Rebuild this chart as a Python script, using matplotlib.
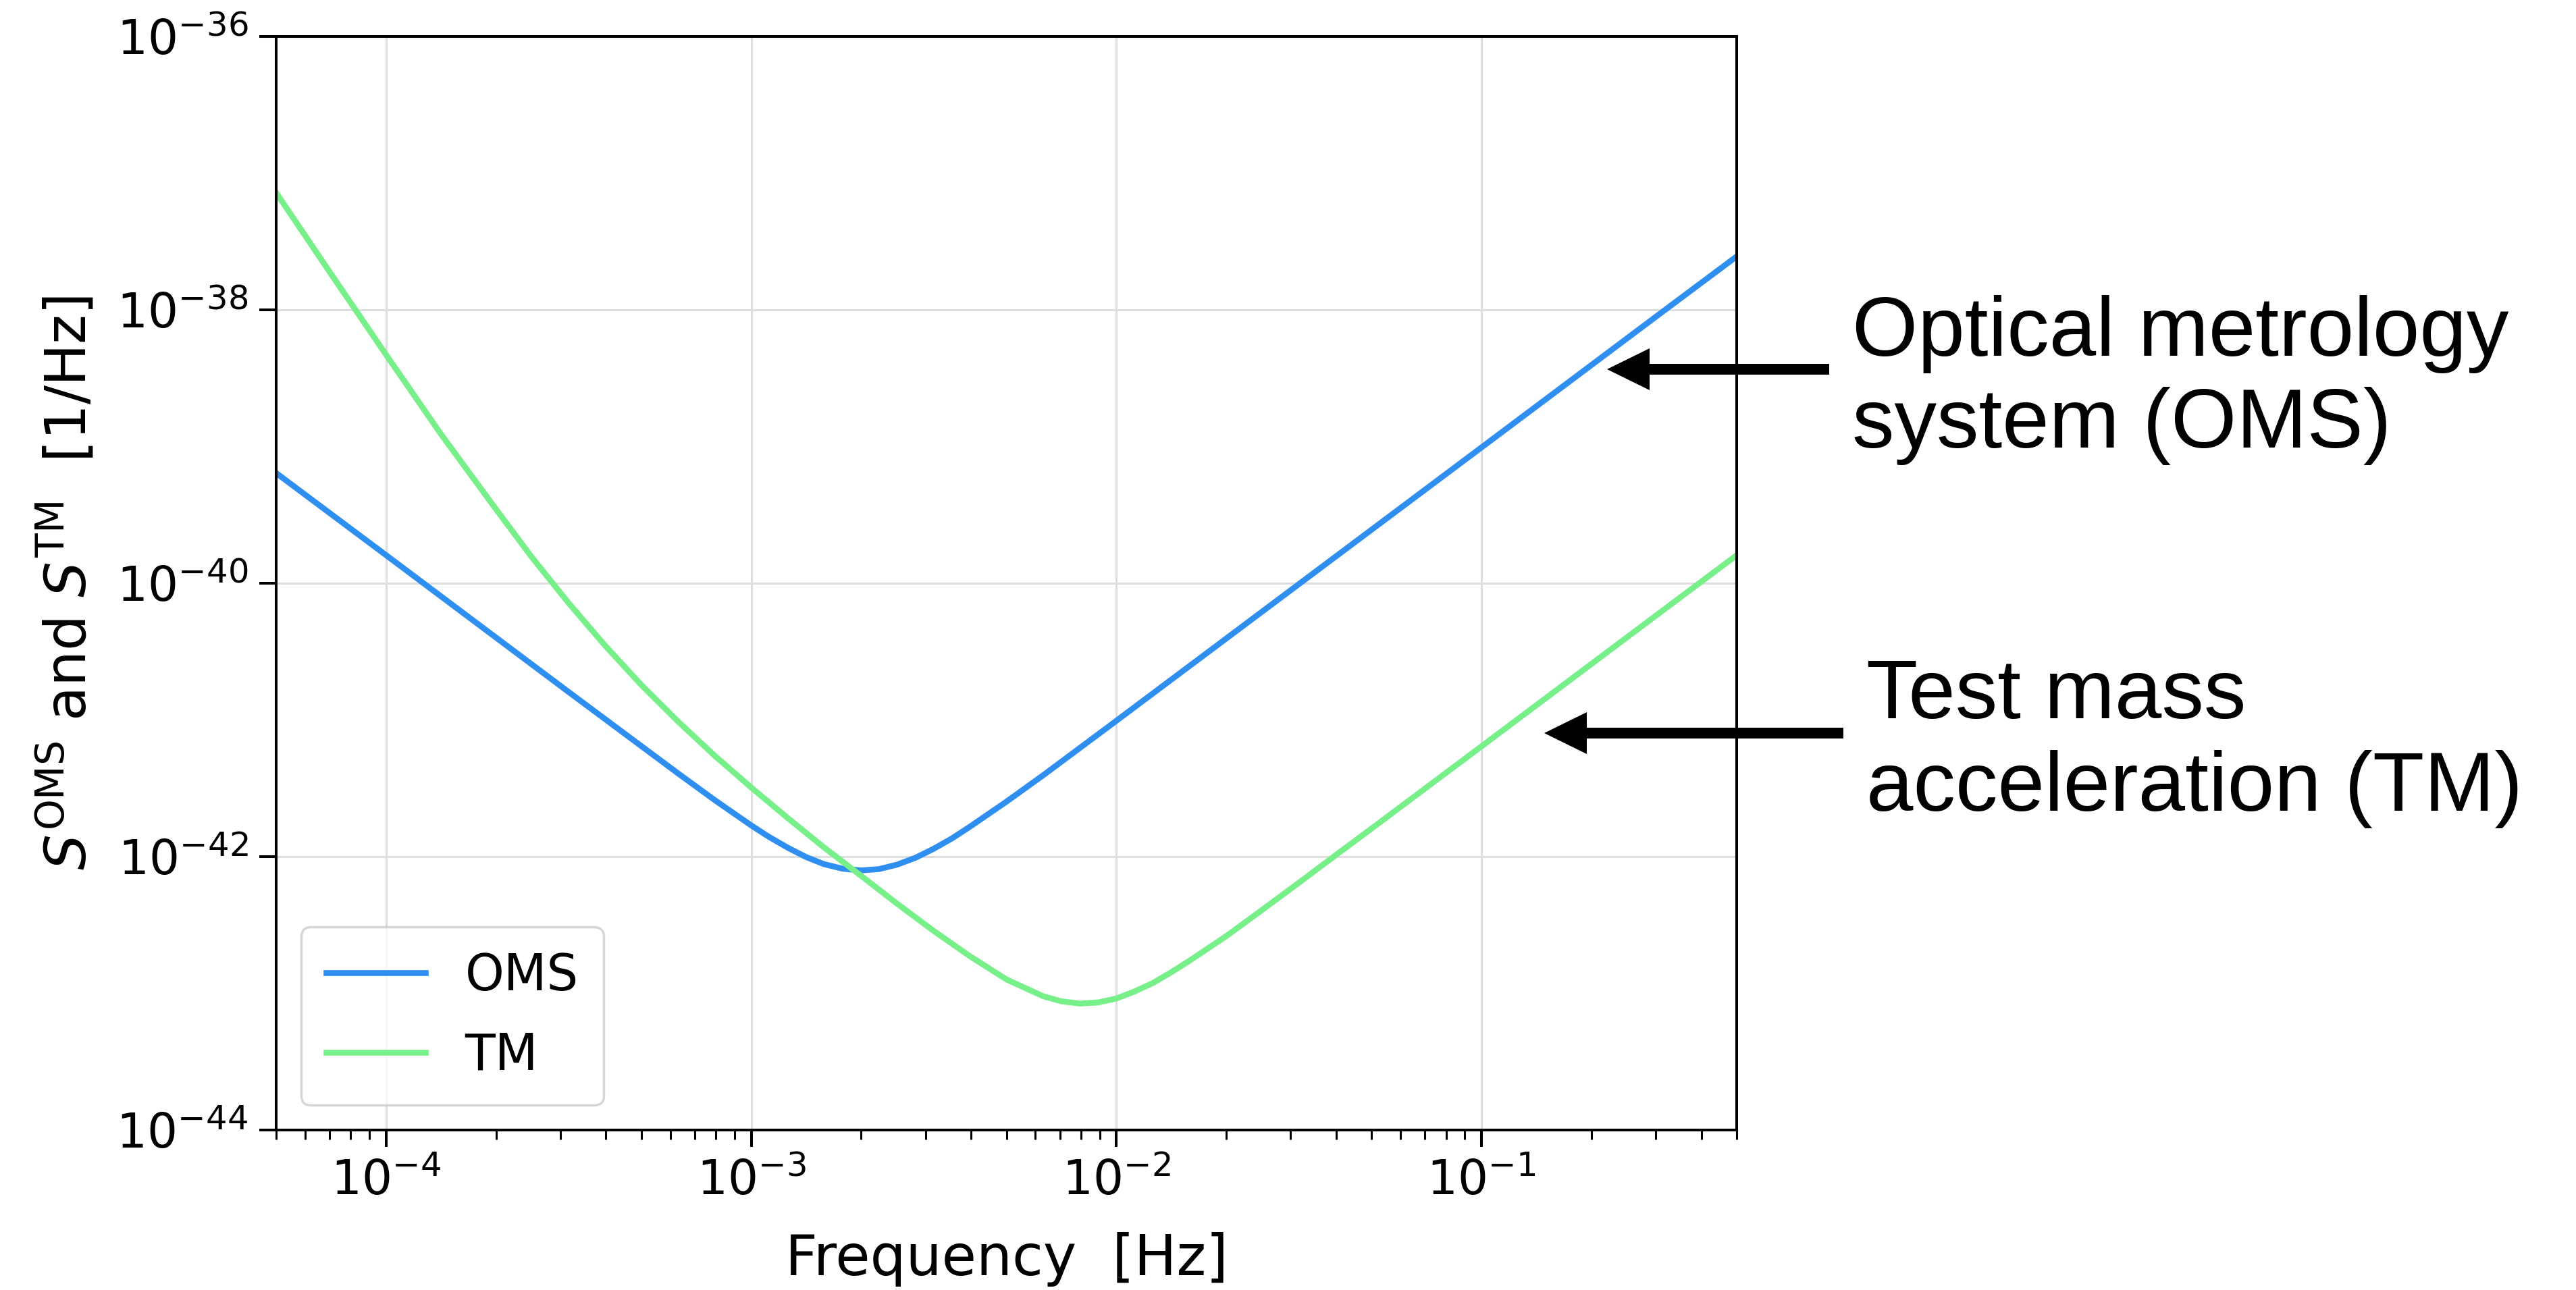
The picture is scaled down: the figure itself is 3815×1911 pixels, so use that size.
import matplotlib
matplotlib.use("Agg")
import matplotlib.pyplot as plt
from matplotlib.patches import FancyArrow
from matplotlib.ticker import NullLocator

# values (log-log)
freq_oms = [5e-5, 1e-4, 3.16e-4, 6.31e-4, 7.94e-4, 1e-3, 1.12e-3, 1.26e-3, 1.41e-3, 1.58e-3,
            1.78e-3, 2.0e-3, 2.24e-3, 2.51e-3, 2.82e-3, 3.16e-3, 3.55e-3, 3.98e-3, 5.01e-3,
            6.31e-3, 7.94e-3, 1e-2, 3.16e-2, 0.1, 0.316, 0.5]
s_oms = [6.38e-40, 1.60e-40, 1.60e-41, 4.05e-42, 2.59e-42, 1.69e-42, 1.39e-42, 1.16e-42, 9.95e-43, 8.81e-43,
         8.15e-43, 7.92e-43, 8.10e-43, 8.73e-43, 9.81e-43, 1.14e-42, 1.36e-42, 1.66e-42, 2.53e-42,
         3.94e-42, 6.22e-42, 9.84e-42, 9.82e-41, 9.82e-40, 9.82e-39, 2.45e-38]

freq_tm = [5e-5, 7.08e-5, 1e-4, 1.41e-4, 2e-4, 2.51e-4, 3.16e-4, 3.98e-4, 5.01e-4, 6.31e-4,
           7.94e-4, 1e-3, 1.26e-3, 1.58e-3, 2e-3, 2.51e-3, 3.16e-3, 3.98e-3, 5.01e-3, 6.31e-3,
           7.08e-3, 7.94e-3, 8.91e-3, 1e-2, 1.12e-2, 1.26e-2, 1.41e-2, 1.58e-2, 2.0e-2, 2.51e-2,
           3.16e-2, 3.98e-2, 5.01e-2, 0.1, 0.316, 0.5]
s_tm = [7.16e-38, 1.81e-38, 4.68e-39, 1.24e-39, 3.47e-40, 1.54e-40, 7.16e-41, 3.49e-41, 1.79e-41, 9.70e-42,
        5.47e-42, 3.20e-42, 1.91e-42, 1.17e-42, 7.23e-43, 4.52e-43, 2.86e-43, 1.86e-43, 1.26e-43, 9.51e-44,
        8.73e-44, 8.41e-44, 8.57e-44, 9.16e-44, 1.03e-43, 1.19e-43, 1.42e-43, 1.72e-43, 2.62e-43, 4.08e-43,
        6.43e-43, 1.02e-42, 1.61e-42, 6.40e-42, 6.40e-41, 1.60e-40]

y_ticks = [1e-44, 1e-42, 1e-40, 1e-38, 1e-36]

fig = plt.figure(figsize=(38.15, 19.11), dpi=100)
ax = fig.add_axes([0.1072, 0.124, 0.5670, 0.848])

ax.loglog(freq_oms, s_oms, color='#2e8ff0', lw=6.2, label='OMS')
ax.loglog(freq_tm, s_tm, color='#78f08a', lw=6.2, label='TM')

ax.set_xlim(5e-5, 0.5)
ax.set_ylim(1e-44, 1e-36)
ax.set_yticks(y_ticks)
ax.yaxis.set_minor_locator(NullLocator())

ax.grid(True, which='major', color='#dedede', lw=2.2)
for sp in ax.spines.values():
    sp.set_linewidth(2.9)
ax.tick_params(which='major', labelsize=51, length=18, width=2.9, pad=12)
ax.tick_params(which='minor', length=10, width=2.2)

ax.set_xlabel('Frequency  [Hz]', fontsize=60, labelpad=29)
ax.set_ylabel(r'$S^{\mathrm{OMS}}$ and $S^{\mathrm{TM}}$  [1/Hz]', fontsize=60, labelpad=20)

leg = ax.legend(loc='lower left', fontsize=53, labelspacing=0.6, borderpad=0.5)
leg.get_frame().set_linewidth(2.5)

# annotations on the right side
txt = dict(fontsize=90, family='Liberation Sans', color='black', va='baseline', ha='left')
fig.text(0.7190, 1 - 527 / 1911, 'Optical metrology', **txt)
fig.text(0.7190, 1 - 663 / 1911, 'system (OMS)', **txt)
fig.text(0.7245, 1 - 1064 / 1911, 'Test mass', **txt)
fig.text(0.7245, 1 - 1201 / 1911, 'acceleration (TM)', **txt)

# arrows, in inches from the lower-left corner
for x_tail, x_tip, y in [(27.09, 23.80, 13.64), (27.30, 22.87, 8.25)]:
    fig.add_artist(FancyArrow(x_tail, y, x_tip - x_tail, 0, width=0.16, head_width=0.62,
                              head_length=0.63, length_includes_head=True,
                              color='black', lw=0, transform=fig.dpi_scale_trans))

fig.savefig('out.png', dpi=100, facecolor='white')
